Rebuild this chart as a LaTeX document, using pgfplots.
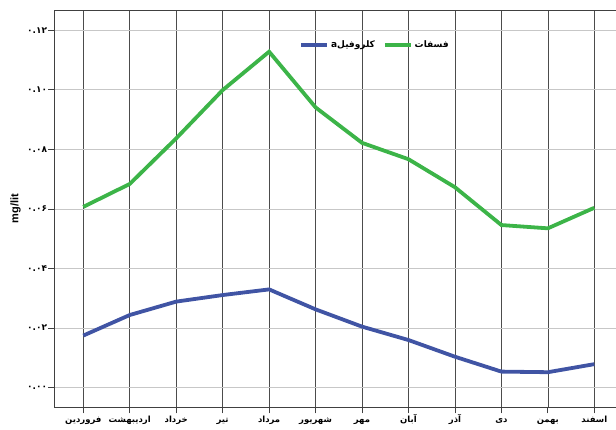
\documentclass[border=0pt]{standalone}
\usepackage{fontspec}
\setmainfont{Liberation Sans}
\newfontfamily\arabicfont[Script=Arabic]{DejaVu Sans}
\usepackage{pgfplots}
\pgfplotsset{compat=1.18}
\TeXXeTstate=1
\newcommand{\fa}[1]{{\arabicfont\beginR #1\endR}}
\definecolor{cblue}{RGB}{64,84,164}
\definecolor{cgreen}{RGB}{60,180,72}
\begin{document}
\begin{tikzpicture}
\begin{axis}[
  at={(0,0)}, anchor=south west,
  scale only axis, width=561.7pt, height=397.3pt,
  xmin=-0.624, xmax=11.467, ymin=-0.00658, ymax=0.1268,
  xtick={0,1,2,3,4,5,6,7,8,9,10,11},
  xticklabels={\fa{فروردین},\fa{اردیبهشت},\fa{خرداد},\fa{تیر},\fa{مرداد},\fa{شهریور},\fa{مهر},\fa{آبان},\fa{آذر},\fa{دی},\fa{بهمن},\fa{اسفند}},
  ytick={0,0.02,0.04,0.06,0.08,0.10,0.12},
  yticklabels={\fa{۰.۰۰},\fa{۰.۰۲},\fa{۰.۰۴},\fa{۰.۰۶},\fa{۰.۰۸},\fa{۰.۱۰},\fa{۰.۱۲}},
  xticklabel style={font=\bfseries\fontsize{8.5}{9}\selectfont, inner sep=1pt,
    anchor=north, text height=8pt, text depth=3pt},
  yticklabel style={font=\bfseries\fontsize{9}{10}\selectfont, inner sep=1pt},
  xmajorgrids, ymajorgrids,
  x grid style={black!70, line width=0.7pt},
  y grid style={black!22, line width=0.8pt},
  xtick pos=bottom, ytick pos=left,
  tick align=outside, major tick length=6pt,
  tick style={black!75, line width=0.8pt},
  axis line style={draw=none},
  clip=false,
  ylabel={\bfseries mg/lit},
  ylabel style={font=\fontsize{11}{12}\selectfont, yshift=2pt},
  legend columns=2,
  legend style={at={(axis cs:6.28,0.115)}, anchor=center, draw=none, fill=none,
    font=\bfseries\fontsize{9}{10}\selectfont,
    /tikz/every even column/.append style={column sep=6pt}},
  legend image code/.code={\draw[#1] (0pt,0pt) -- (26pt,0pt);},
]
\addplot[cblue, line width=3.8pt] coordinates {
 (0,0.0175) (1,0.0244) (2,0.0289) (3,0.0311) (4,0.0330) (5,0.0263)
 (6,0.0205) (7,0.0160) (8,0.0104) (9,0.0054) (10,0.0052) (11,0.0079)};
\addlegendentry{\fa{کلروفیلa}}
\addplot[cgreen, line width=3.8pt] coordinates {
 (0,0.0607) (1,0.0684) (2,0.0837) (3,0.0999) (4,0.1128) (5,0.0941)
 (6,0.0822) (7,0.0767) (8,0.0673) (9,0.0546) (10,0.0535) (11,0.0604)};
\addlegendentry{\fa{فسفات}}
\draw[black!75, line width=0.9pt] (rel axis cs:1,1) -- (rel axis cs:0,1) -- (rel axis cs:0,0) -- (rel axis cs:1,0);
\end{axis}
\pgfresetboundingbox
\path (-54.3pt,-22.7pt) rectangle (561.7pt,407.3pt);
\end{tikzpicture}
\end{document}
